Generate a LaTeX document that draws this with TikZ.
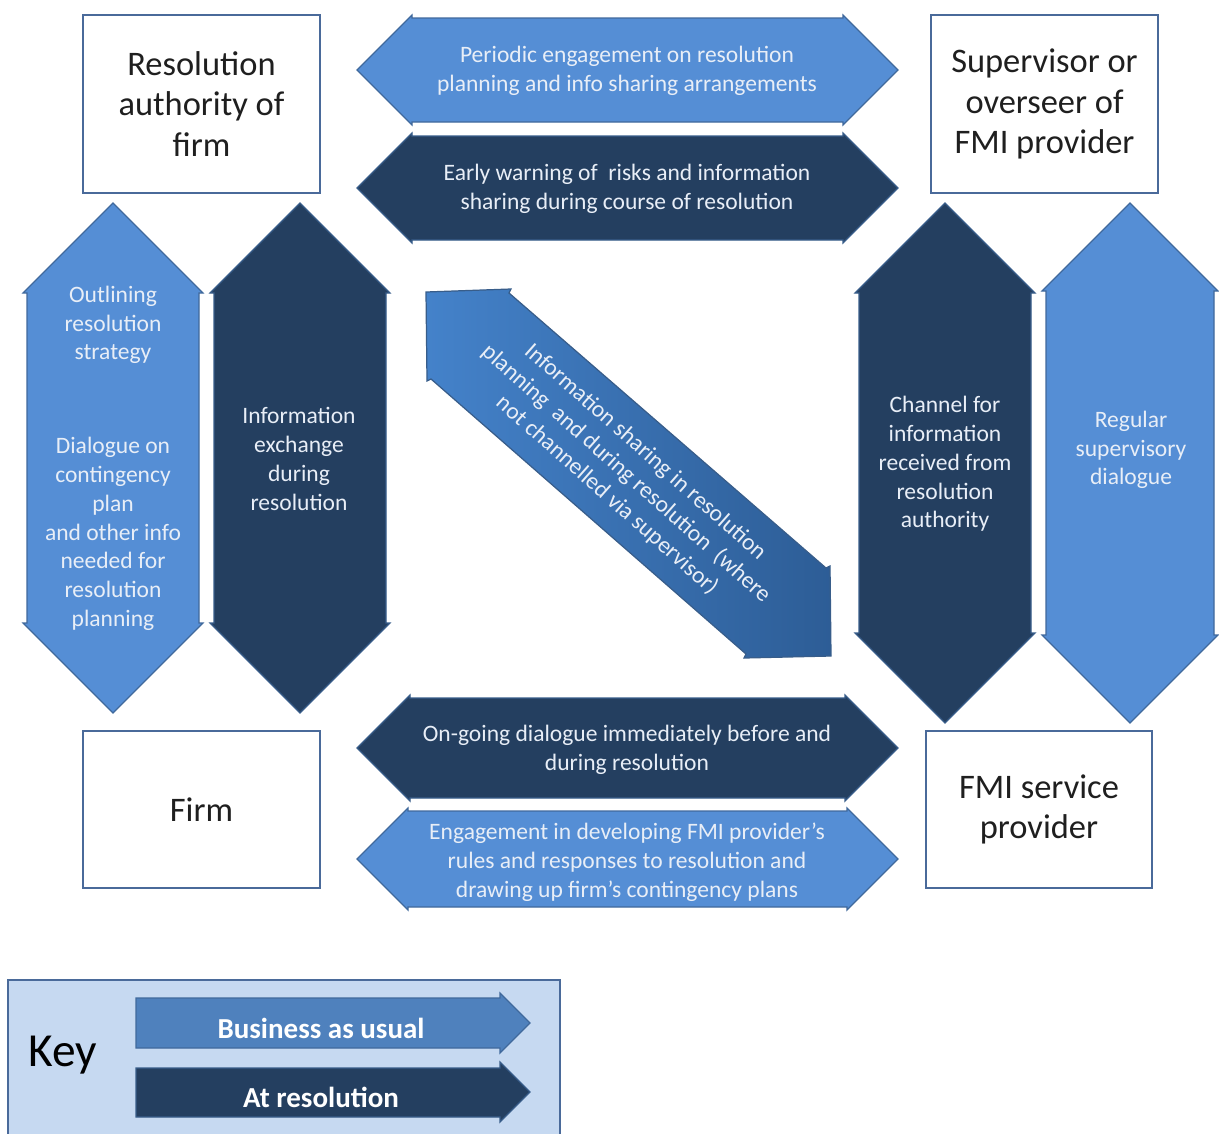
\documentclass[tikz,border=0pt]{standalone}
\usepackage{fontspec}
\setmainfont{Carlito}
\definecolor{baublue}{RGB}{85,142,213}
\definecolor{baudraw}{RGB}{64,105,156}
\definecolor{resnavy}{RGB}{36,63,96}
\definecolor{resdraw}{RGB}{56,93,138}
\definecolor{boxdraw}{RGB}{74,106,154}
\definecolor{keybg}{RGB}{198,217,241}
\definecolor{keyblue}{RGB}{79,129,189}
\definecolor{arrowtxt}{RGB}{232,238,247}
\definecolor{diaglight}{RGB}{68,130,202}
\definecolor{diagdark}{RGB}{45,93,150}

\begin{document}
\begin{tikzpicture}[
  x=0.02cm, y=-0.02cm,
  entity/.style={draw=boxdraw, line width=1.1pt, fill=white, align=center,
                 text=black!88, inner sep=0pt, font=\fontsize{19.6}{23.2}\selectfont},
  bau/.style={fill=baublue, draw=baudraw, line width=0.7pt},
  atres/.style={fill=resnavy, draw=resdraw, line width=0.7pt},
  arrowtext/.style={text=arrowtxt, align=center, inner sep=0pt,
                    font=\fontsize{13.4}{16.4}\selectfont},
  keytext/.style={text=white, font=\bfseries\fontsize{16.5}{18}\selectfont}
]
\useasboundingbox (0,0) rectangle (1219,1133);

% Authorities and firms
\node[entity, minimum width=4.74cm, minimum height=3.56cm] (resauth) at (201.5,104)
  {Resolution\\authority of\\firm};
\node[entity, minimum width=4.54cm, minimum height=3.56cm] (supervisor) at (1044.5,104)
  {Supervisor or\\overseer of\\FMI provider};
\node[entity, minimum width=4.74cm, minimum height=3.14cm] (firm) at (201.5,809.5)
  {Firm};
\node[entity, minimum width=4.52cm, minimum height=3.14cm] (fmi) at (1039,809.5)
  {FMI service\\provider};

% Top arrows
\draw[bau] (357,70) -- (412,15) -- (412,18) -- (843,18) -- (843,15) -- (898,70)
  -- (843,125) -- (843,122) -- (412,122) -- (412,125) -- cycle;
\node[arrowtext] (periodic) at (627,71)
  {Periodic engagement on resolution\\planning and info sharing arrangements};
\draw[atres] (357,188) -- (412,133) -- (412,136) -- (843,136) -- (843,133) -- (898,188)
  -- (843,243) -- (843,240) -- (412,240) -- (412,243) -- cycle;
\node[arrowtext] (earlywarn) at (627,189)
  {Early warning of~ risks and information\\sharing during course of resolution};

% Left arrows
\draw[bau] (113,203) -- (203,293) -- (199,293) -- (199,623) -- (203,623) -- (113,713)
  -- (23,623) -- (27,623) -- (27,293) -- (23,293) -- cycle;
\node[arrowtext] (outline) at (113,325) {Outlining\\resolution\\strategy};
\node[arrowtext] (dialogue) at (113,534)
  {Dialogue on\\contingency\\plan\\and other info\\needed for\\resolution\\planning};
\draw[atres] (300,203) -- (390,293) -- (386,293) -- (386,623) -- (390,623) -- (300,713)
  -- (210,623) -- (214,623) -- (214,293) -- (210,293) -- cycle;
\node[arrowtext] (infoexch) at (299,459) {Information\\exchange\\during\\resolution};

% Right arrows
\draw[atres] (945,203) -- (1035,293) -- (1031,293) -- (1031,633) -- (1035,633) -- (945,723)
  -- (855,633) -- (859,633) -- (859,293) -- (855,293) -- cycle;
\node[arrowtext] (channel) at (945,464)
  {Channel for\\information\\received from\\resolution\\authority};
\draw[bau] (1130,203) -- (1218,291) -- (1214,291) -- (1214,635) -- (1218,635) -- (1130,723)
  -- (1042,635) -- (1046,635) -- (1046,291) -- (1042,291) -- cycle;
\node[arrowtext] (regular) at (1131,450) {Regular\\supervisory\\dialogue};

% Diagonal arrow
\shadedraw[left color=diaglight, right color=diagdark, draw=resdraw, line width=0.7pt]
  (426,292) -- (511,289) -- (509,293) -- (826,568) -- (830,566) -- (831,656)
  -- (744,658) -- (746,654) -- (431,379) -- (427,381) -- cycle;
\node[arrowtext, rotate=-41.5] (infoshare) at (626,474)
  {Information sharing in resolution\\planning~ and during resolution~ (where\\not channelled via supervisor)};

% Bottom arrows
\draw[atres] (357,748) -- (410,695) -- (410,698) -- (845,698) -- (845,695) -- (898,748)
  -- (845,801) -- (845,798) -- (410,798) -- (410,801) -- cycle;
\node[arrowtext] (ongoing) at (627,750)
  {On-going dialogue immediately before and\\during resolution};
\draw[bau] (357,859) -- (408,808) -- (408,811) -- (847,811) -- (847,808) -- (898,859)
  -- (847,910) -- (847,907) -- (408,907) -- (408,910) -- cycle;
\node[arrowtext] (engage) at (627,862)
  {Engagement in developing FMI provider’s\\rules and responses to resolution and\\drawing up firm’s contingency plans};

% Key
\draw[fill=keybg, draw=boxdraw, line width=1pt] (8,980) rectangle (560,1140);
\node[font=\fontsize{27}{30}\selectfont] (key) at (63,1055) {Key};
\draw[fill=keyblue, draw=baudraw, line width=0.7pt] (136,998) -- (500,998) -- (500,993)
  -- (530,1023) -- (500,1053) -- (500,1048) -- (136,1048) -- cycle;
\node[keytext] (busual) at (321,1028) {Business as usual};
\draw[atres] (136,1068) -- (500,1068) -- (500,1062) -- (530,1092) -- (500,1122)
  -- (500,1117) -- (136,1117) -- cycle;
\node[keytext] (atresol) at (321,1097) {At resolution};

\end{tikzpicture}
\end{document}
